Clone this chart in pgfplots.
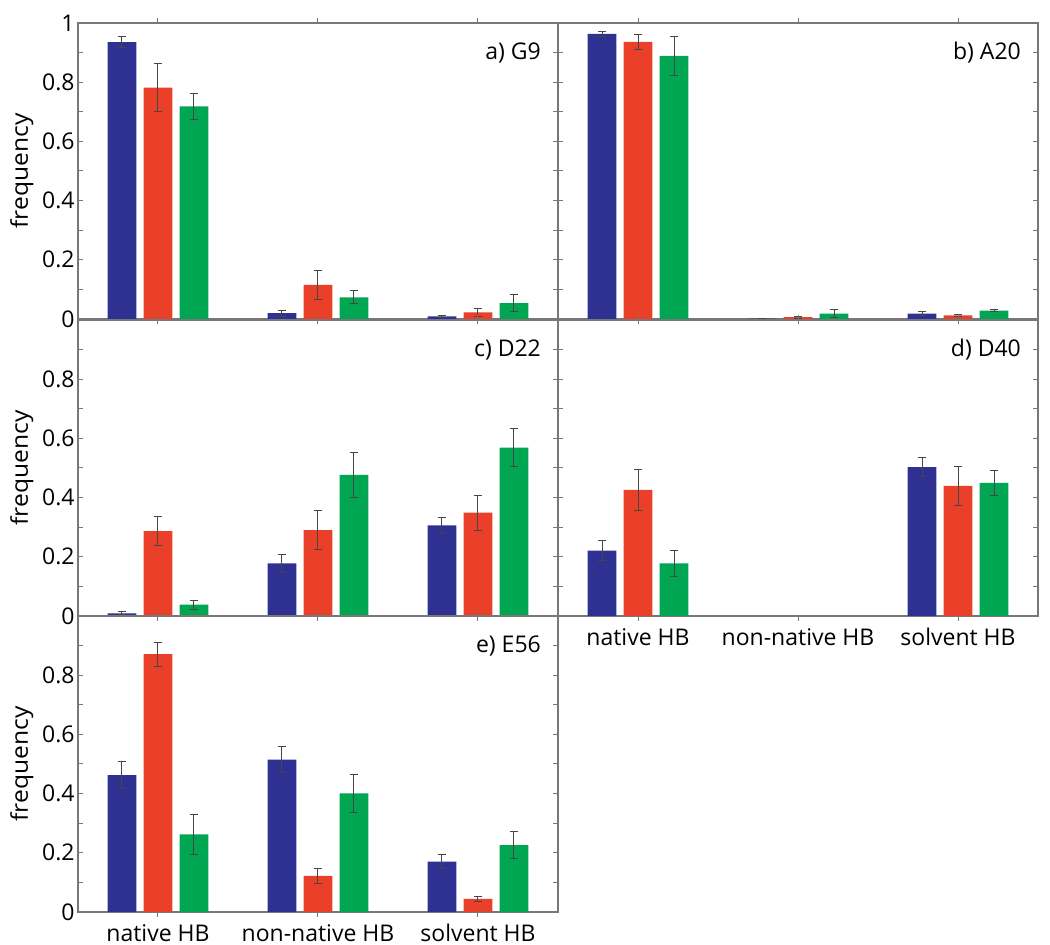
\documentclass[border=0pt]{standalone}
\usepackage{fontspec}
\setmainfont{Open Sans}
\usepackage{graphicx}
\usepackage{pgfplots}
\usepackage{pgfplotstable}
\pgfplotsset{compat=1.18}
\definecolor{cb}{RGB}{46,49,146}
\definecolor{cr}{RGB}{234,64,42}
\definecolor{cg}{RGB}{0,166,81}
\definecolor{ax}{RGB}{120,120,120}
\definecolor{eb}{RGB}{70,70,70}

\pgfplotstableread{
x b be r re g ge
1 0.935 0.018 0.782 0.080 0.718 0.044
2 0.020 0.010 0.115 0.048 0.073 0.022
3 0.009 0.003 0.022 0.015 0.054 0.028
}\tA
\pgfplotstableread{
x b be r re g ge
1 0.963 0.008 0.936 0.024 0.889 0.067
2 0.001 0.001 0.006 0.004 0.018 0.013
3 0.018 0.007 0.012 0.004 0.028 0.003
}\tB
\pgfplotstableread{
x b be r re g ge
1 0.009 0.005 0.287 0.050 0.038 0.016
2 0.178 0.030 0.290 0.066 0.477 0.077
3 0.306 0.026 0.349 0.059 0.569 0.063
}\tC
\pgfplotstableread{
x b be r re g ge
1 0.221 0.035 0.426 0.068 0.178 0.043
3 0.503 0.031 0.440 0.066 0.450 0.042
}\tD
\pgfplotstableread{
x b be r re g ge
1 0.462 0.046 0.871 0.040 0.262 0.069
2 0.515 0.045 0.122 0.026 0.401 0.065
3 0.170 0.023 0.044 0.010 0.226 0.045
}\tE

\tikzset{plab/.style={anchor=east, font=\fontsize{11.5}{13}\selectfont}}

\pgfplotsset{
  panel/.style={
    width=240pt, height=148pt, scale only axis,
    xmin=0.5, xmax=3.5, ymin=0, ymax=1,
    xtick={1,2,3}, xticklabels={},
    ytick={0,0.1,0.2,0.3,0.4,0.5,0.6,0.7,0.8,0.9,1},
    yticklabels={},
    tick align=inside, major tick length=2.5pt,
    axis line style={ax, line width=0.6pt},
    tick style={ax, line width=0.5pt},
    ybar, bar width=0.18,
    clip=false,
    font=\fontsize{11.5}{13}\selectfont,
    ylabel style={at={(axis description cs:-0.117,0.5)}, anchor=center, font=\fontsize{11.5}{13}\selectfont},
    xticklabel style={inner sep=0.5pt, yshift=-3pt},
    yticklabel style={inner sep=1pt, xshift=-0.5pt},
  },
  errs/.style={error bars/.cd, y dir=both, y explicit,
    error bar style={eb, line width=0.5pt},
    error mark options={eb, rotate=90, mark size=2pt, line width=0.5pt}},
  pb/.style={fill=cb, draw=none, bar shift=-0.225, errs},
  pr/.style={fill=cr, draw=none, bar shift=0, errs},
  pg/.style={fill=cg, draw=none, bar shift=0.225, errs},
}

\newcommand{\threebars}[1]{%
  \addplot[pb] table[x=x, y=b, y error=be] {#1};
  \addplot[pr] table[x=x, y=r, y error=re] {#1};
  \addplot[pg] table[x=x, y=g, y error=ge] {#1};
}
\newcommand{\freq}{\scalebox{1.07}[1]{frequency}}

\begin{document}
\begin{tikzpicture}
\useasboundingbox (0,0) rectangle (525pt,-472.5pt);

% a
\begin{axis}[panel, at={(39pt,-11.5pt)}, anchor=north west,
  yticklabels={0,,0.2,,0.4,,0.6,,0.8,,1}, ylabel={\freq}]
\threebars{\tA}
\node[plab] at (rel axis cs:0.979,0.9) {a) G9};
\end{axis}

% b
\begin{axis}[panel, at={(279pt,-11.5pt)}, anchor=north west]
\threebars{\tB}
\node[plab] at (rel axis cs:0.979,0.9) {b) A20};
\end{axis}

% c
\begin{axis}[panel, at={(39pt,-160pt)}, anchor=north west,
  yticklabels={0,,0.2,,0.4,,0.6,,0.8,,}, ylabel={\freq}]
\threebars{\tC}
\node[plab] at (rel axis cs:0.979,0.9) {c) D22};
\end{axis}

% d
\begin{axis}[panel, at={(279pt,-160pt)}, anchor=north west,
  xticklabels={native HB, non-native HB, solvent HB}]
\threebars{\tD}
\node[plab] at (rel axis cs:0.979,0.9) {d) D40};
\end{axis}

% e
\begin{axis}[panel, at={(39pt,-308pt)}, anchor=north west,
  yticklabels={0,,0.2,,0.4,,0.6,,0.8,,}, ylabel={\freq},
  xticklabels={native HB, non-native HB, solvent HB}]
\threebars{\tE}
\node[plab] at (rel axis cs:0.979,0.9) {e) E56};
\end{axis}
\end{tikzpicture}
\end{document}
